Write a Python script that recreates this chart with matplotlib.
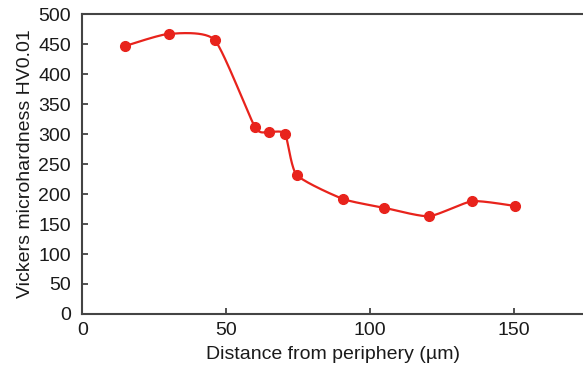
import numpy as np
import matplotlib
matplotlib.use('Agg')
import matplotlib.pyplot as plt

plt.rcParams['font.family'] = ['Liberation Sans', 'DejaVu Sans']

# Measured hardness profile
distance = [15, 30, 46, 60, 65, 70.5, 74.5, 90.5, 105, 120.5, 135.5, 150.5]
hardness = [447, 467, 457, 312, 304, 300, 232, 192, 177, 163, 188, 180]


def smooth_curve(xs, ys, n=30, tension=0.3):
    # Catmull-Rom style smoothing like spreadsheet "smoothed line"
    x = np.asarray(xs, float)
    y = np.asarray(ys, float)
    px = np.concatenate([[x[0]], x, [x[-1]]])
    py = np.concatenate([[y[0]], y, [y[-1]]])
    out_x, out_y = [], []
    t = np.linspace(0, 1, n)
    for i in range(1, len(px) - 2):
        p0, p1, p2, p3 = [np.array([px[j], py[j]]) for j in (i - 1, i, i + 1, i + 2)]
        c1 = p1 + (p2 - p0) * tension / 3
        c2 = p2 - (p3 - p1) * tension / 3
        seg = ((1 - t) ** 3)[:, None] * p1 + (3 * (1 - t) ** 2 * t)[:, None] * c1 \
            + (3 * (1 - t) * t ** 2)[:, None] * c2 + (t ** 3)[:, None] * p2
        out_x.extend(seg[:, 0])
        out_y.extend(seg[:, 1])
    return out_x, out_y


red = '#e8231c'
fig, ax = plt.subplots(figsize=(5.83, 3.72), dpi=100)
fig.subplots_adjust(left=0.141, right=1.0, top=0.962, bottom=0.156)

sx, sy = smooth_curve(distance, hardness)
ax.plot(sx, sy, color=red, lw=1.6)
ax.plot(distance, hardness, 'o', color=red, ms=7)

ax.set_xlim(0, 174)
ax.set_ylim(0, 500)
ax.set_xticks([0, 50, 100, 150])
ax.set_yticks(range(0, 501, 50))
ax.tick_params(direction='in', labelsize=14, length=4, width=1.2, colors='#333333')
ax.tick_params(axis='y', pad=8)
ax.tick_params(axis='x', pad=6)
for lbl in ax.get_xticklabels() + ax.get_yticklabels():
    lbl.set_color('#1a1a1a')
for side in ['left', 'bottom', 'top']:
    ax.spines[side].set_linewidth(1.5)
    ax.spines[side].set_color('#444444')
ax.spines['right'].set_visible(False)

ax.set_xlabel('Distance from periphery (µm)', fontsize=14, color='#1a1a1a', labelpad=5)
ax.set_ylabel('Vickers microhardness HV0.01', fontsize=14, color='#1a1a1a', labelpad=3)

fig.savefig('out.png', dpi=100)
